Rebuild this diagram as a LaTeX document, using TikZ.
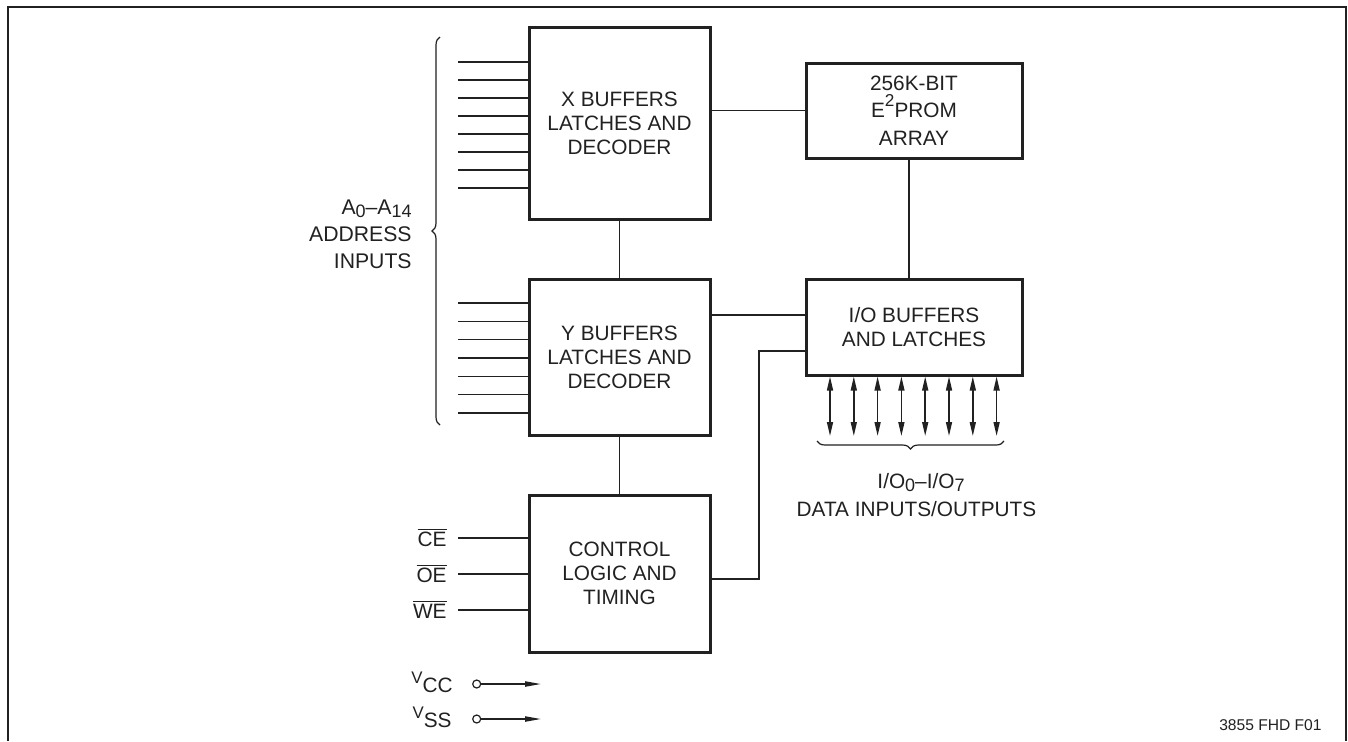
\documentclass[tikz,border=0pt]{standalone}
\usepackage{fontspec}
\setmainfont{Liberation Sans}
\usetikzlibrary{arrows.meta,decorations.pathreplacing,calc}
\definecolor{ink}{gray}{0.13}
\newcommand\subdn[1]{\raisebox{-1.8pt}{\fontsize{9}{9}\selectfont #1}}
\newcommand\supup[1]{\raisebox{5.8pt}{\fontsize{8.6}{8.6}\selectfont #1}}
\newcommand\supV{\raisebox{4.2pt}{\fontsize{8.4}{8.4}\selectfont V}}
\newcommand\ovl[1]{$\overline{\mbox{#1}}$}
\begin{document}
\begin{tikzpicture}[x=0.5pt,y=-0.5pt,
  blk/.style={draw=ink, line width=1.5pt, minimum width=90.5pt, inner sep=0pt,
    align=center, text=ink, font=\fontsize{10.4}{12}\selectfont},
  wire/.style={draw=ink, line width=0.75pt},
  lbl/.style={text=ink, inner sep=0pt, font=\fontsize{10.4}{12.2}\selectfont},
  dbl/.style={{Triangle[length=7pt,width=3pt]}-{Triangle[length=7pt,width=3pt]}},
  pwr/.style={-{Triangle[length=8pt,width=2.6pt]}},
  pin/.style={circle, draw=ink, line width=0.6pt, minimum size=4pt, inner sep=0pt},
  brc/.style={draw=ink, line width=0.6pt, decorate, decoration={brace, amplitude=4pt}}
]
\useasboundingbox (0,0) rectangle (1348,741);
% frame
\draw[draw=ink, line width=1pt] (8,741) -- (8,7) -- (1345.5,7) -- (1345.5,741);

% blocks
\node[blk, minimum height=96pt] (X) at (619.5,123) {X BUFFERS\\LATCHES AND\\DECODER};
\node[blk, minimum height=78pt] (Y) at (619.5,357) {Y BUFFERS\\LATCHES AND\\DECODER};
\node[blk, minimum height=78.5pt] (C) at (619.5,573.5) {CONTROL\\LOGIC AND\\TIMING};
\node[blk, minimum width=108pt, minimum height=47.5pt, font=\fontsize{10.4}{13.75}\selectfont] (E) at (914,110.5) {256K-BIT\\E\supup{2}PROM\\ARRAY};
\node[blk, minimum width=108pt, minimum height=48pt] (IO) at (914,327) {I/O BUFFERS\\AND LATCHES};

% connections
\draw[wire] (X.south) -- (Y.north);
\draw[wire] (Y.south) -- (C.north);
\draw[wire] (E.west) -- (E.west -| X.east);
\draw[wire] ([xshift=-2.6pt]E.south) -- ([xshift=-2.6pt]IO.north);
\draw[wire] ([yshift=6pt]IO.west) -- ([yshift=6pt]IO.west -| Y.east);
\draw[wire] ([yshift=-2.75pt]C.east) -- ++(47.5,0) |- ([yshift=-12pt]IO.west);

% address inputs
\foreach \i in {0,...,7} {
  \coordinate (xa\i) at (458,62+18*\i);
  \draw[wire] (xa\i) -- (xa\i -| X.west);
}
\foreach \i in {0,...,6} {
  \coordinate (ya\i) at (458,303+18.33*\i);
  \draw[wire] (ya\i) -- (ya\i -| Y.west);
}
\coordinate (bra) at (440,425);
\coordinate (brb) at (440,37);
\draw[brc] (bra) -- (brb);
\node[lbl, anchor=east, align=right, font=\fontsize{10.6}{13.6}\selectfont] (addr) at (412,234) {A\subdn{0}--A\subdn{14}\\ADDRESS\\INPUTS};

% control inputs
\foreach \y/\t [count=\k] in {538/CE,574/OE,610/WE} {
  \coordinate (ci\k) at (458,\y);
  \draw[wire] (ci\k) -- (ci\k -| C.west);
  \node[lbl, anchor=base east] (cl\k) at (447,\y+8.5) {\ovl{\t}};
}

% data lines
\foreach \i in {0,...,7} {
  \coordinate (d\i) at (830+23.8*\i,436);
  \draw[wire, dbl] (d\i |- IO.south) -- (d\i);
}
\coordinate (bda) at (1004,441);
\coordinate (bdb) at (817,441);
\draw[brc] (bda) -- (bdb);
\node[lbl, anchor=base] (iol) at (921,488) {I/O\subdn{0}--I/O\subdn{7}};
\node[lbl, anchor=base] (dio) at (916.5,516) {DATA INPUTS/OUTPUTS};

% power
\node[lbl, anchor=base east] (vcc) at (453,692) {\supV CC};
\node[pin] (vccp) at (476.7,684) {};
\coordinate (vcce) at (541,684);
\draw[wire, pwr] (vccp) -- (vcce);
\node[lbl, anchor=base east] (vss) at (452,727) {\supV SS};
\node[pin] (vssp) at (476.7,719) {};
\coordinate (vsse) at (541,719);
\draw[wire, pwr] (vssp) -- (vsse);

% figure code
\node[text=ink, inner sep=0pt, anchor=base east, font=\fontsize{7.8}{9}\selectfont] (fig) at (1322,730.5) {3855 FHD F01};
\end{tikzpicture}
\end{document}
